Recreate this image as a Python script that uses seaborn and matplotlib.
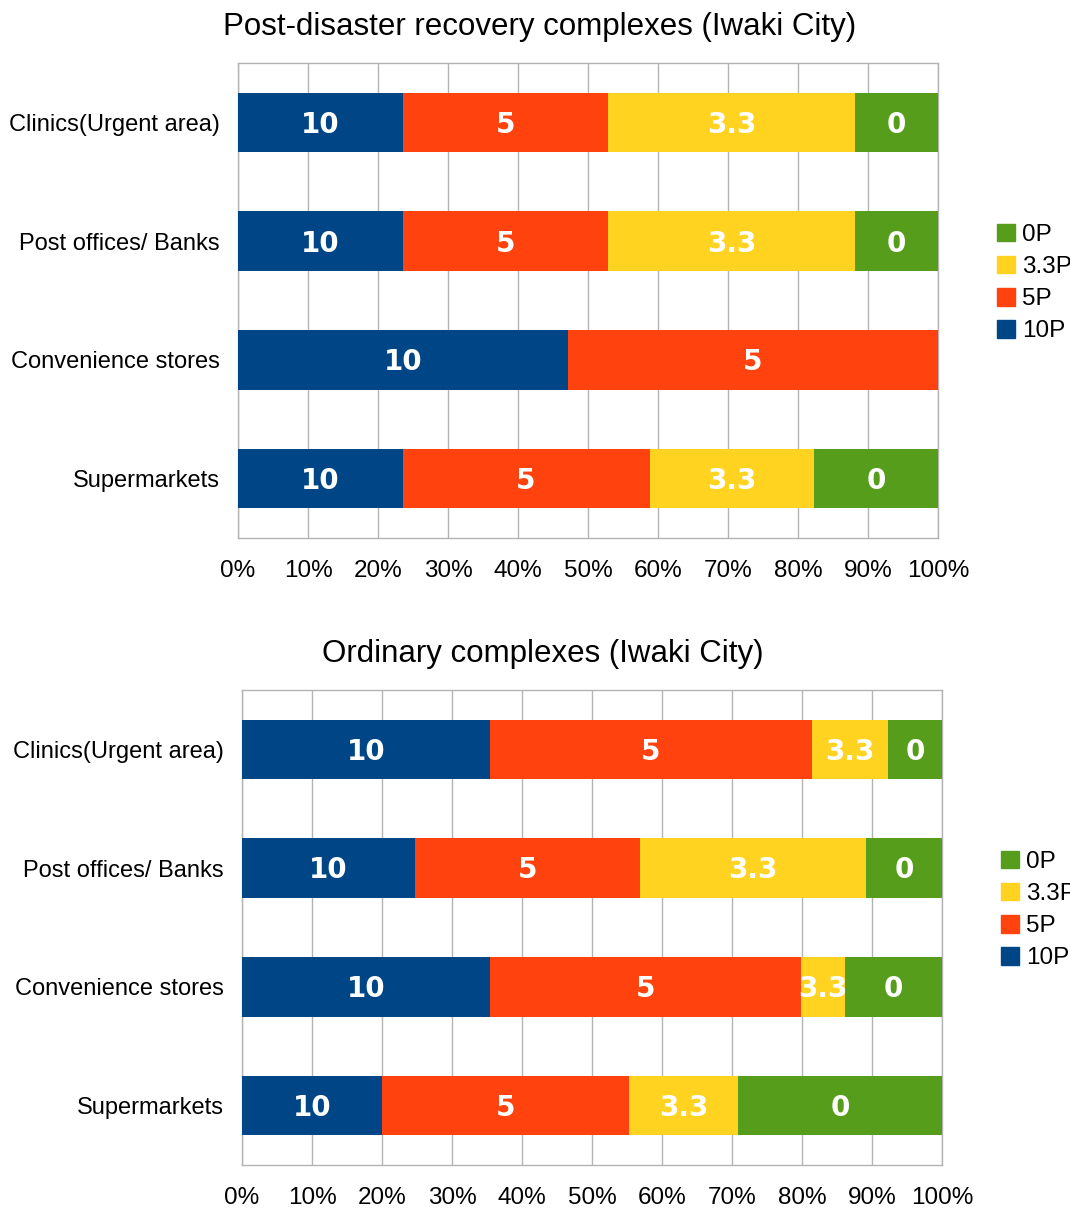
import numpy as np
import pandas as pd
import seaborn as sns
import matplotlib.pyplot as plt

categories = ['Clinics(Urgent area)', 'Post offices/ Banks', 'Convenience stores', 'Supermarkets']
series = ['10P', '5P', '3.3P', '0P']
bar_labels = ['10', '5', '3.3', '0']
colors = ['#004586', '#ff420e', '#ffd320', '#579d1c']

# percent shares
recovery_10 = [23.5, 23.5, 47.1, 23.5]
recovery_5 = [29.4, 29.4, 52.9, 35.3]
recovery_33 = [35.3, 35.3, 0.0, 23.5]
recovery_0 = [11.8, 11.8, 0.0, 17.7]

ordinary_10 = [35.4, 24.7, 35.4, 20.0]
ordinary_5 = [46.0, 32.2, 44.5, 35.3]
ordinary_33 = [10.9, 32.2, 6.2, 15.6]
ordinary_0 = [7.7, 10.9, 13.9, 29.1]

x_ticks = [0, 10, 20, 30, 40, 50, 60, 70, 80, 90, 100]
x_ticklabels = [f'{t}%' for t in x_ticks]

sns.set_style('white')
plt.rcParams['font.family'] = ['Liberation Sans', 'DejaVu Sans']
plt.rcParams['text.color'] = 'black'
plt.rcParams['xtick.labelcolor'] = 'black'
plt.rcParams['ytick.labelcolor'] = 'black'

fig = plt.figure(figsize=(10.7, 12.09), dpi=100)
W, H = 1070, 1209


def draw(ax, values, title, title_x):
    df = pd.DataFrame({'category': categories})
    for s, v in zip(series, values):
        df[s] = v
    cum = df[series].cumsum(axis=1)
    # draw from the right-most segment down so the stacks show
    for i in range(len(series) - 1, -1, -1):
        sns.barplot(data=cum.assign(category=df['category']), x=series[i], y='category',
                    color=colors[i], width=0.5, orient='h', ax=ax, saturation=1,
                    edgecolor='none', linewidth=0, zorder=3)
    starts = cum.shift(axis=1).fillna(0)
    for i, s in enumerate(series):
        for j in range(len(categories)):
            w = df[s].iloc[j]
            if w <= 0:
                continue
            ax.text(starts[s].iloc[j] + w / 2, j + 0.02, bar_labels[i], ha='center',
                    va='center', color='white', fontsize=20, fontweight='bold', zorder=5,
                    family=['DejaVu Sans'])
    ax.set_xlim(0, 100)
    ax.set_ylim(3.5, -0.5)
    ax.set_xticks(x_ticks)
    ax.set_xticklabels(x_ticklabels, fontsize=17.5)
    ax.set_yticks(range(len(categories)))
    ax.set_yticklabels(categories, fontsize=17)
    ax.set_yticks([-0.5, 0.5, 1.5, 2.5, 3.5], minor=True)
    ax.tick_params(axis='y', which='major', length=0, pad=13)
    ax.tick_params(axis='y', which='minor', length=8, color='#b3b3b3', width=1)
    ax.tick_params(axis='x', which='major', length=7, color='#b3b3b3', width=1, pad=9)
    ax.set_xlabel('')
    ax.set_ylabel('')
    ax.grid(axis='x', color='#b3b3b3', linewidth=1, zorder=0)
    ax.set_axisbelow(True)
    for side in ['top', 'bottom', 'left', 'right']:
        ax.spines[side].set_visible(True)
        ax.spines[side].set_color('#b3b3b3')
        ax.spines[side].set_linewidth(1)
    ax.set_title(title, fontsize=22.5, pad=20, x=title_x)
    handles = [plt.Rectangle((0, 0), 1, 1, color=colors[i]) for i in range(3, -1, -1)]
    ax.legend(handles, series[::-1], loc='center left', bbox_to_anchor=(1.084, 0.537),
              frameon=False, fontsize=17.5, handlelength=0.75, handleheight=0.75,
              handletextpad=0.3, labelspacing=0.4, borderaxespad=0, borderpad=0)


ax1 = fig.add_axes([238 / W, 1 - 538 / H, 700 / W, 475 / H])
draw(ax1, [recovery_10, recovery_5, recovery_33, recovery_0],
     'Post-disaster recovery complexes (Iwaki City)', 0.431)

ax2 = fig.add_axes([242 / W, 1 - 1165 / H, 700 / W, 475 / H])
draw(ax2, [ordinary_10, ordinary_5, ordinary_33, ordinary_0],
     'Ordinary complexes (Iwaki City)', 0.43)

fig.savefig('out.png', dpi=100, facecolor='white')
